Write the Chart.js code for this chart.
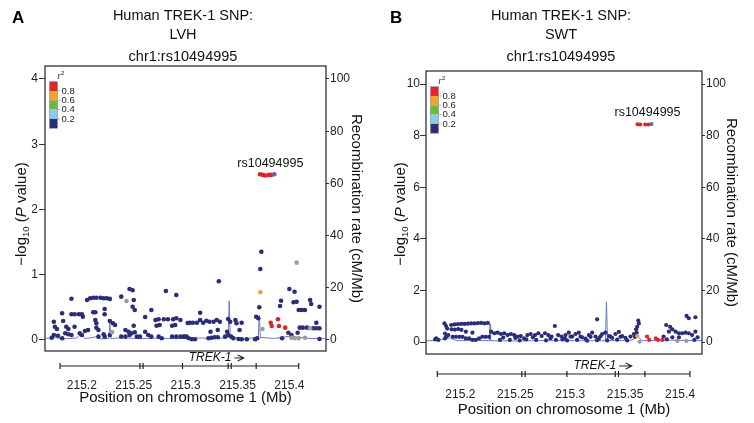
<!DOCTYPE html>
<html><head><meta charset="utf-8">
<script src="https://cdn.jsdelivr.net/npm/chart.js@4/dist/chart.umd.min.js"></script>
<style>
html,body{margin:0;padding:0;background:#fff;}
#wrap{position:relative;width:754px;height:423px;overflow:hidden;}
.panel{position:absolute;top:0;width:377px;height:423px;}
canvas{display:block;}
</style></head><body>
<div id="wrap">
<div class="panel" style="left:0"><canvas id="cA" width="377" height="423"></canvas></div>
<div class="panel" style="left:377px"><canvas id="cB" width="377" height="423"></canvas></div>
</div>
<script>
// ---------- shared labels ----------
const xTickValues = [215.2, 215.25, 215.3, 215.35, 215.4];
const xTickLabels = ['215.2', '215.25', '215.3', '215.35', '215.4'];
const r2Labels = ['0.8', '0.6', '0.4', '0.2'];
const r2Colors = ['#e3262b', '#f4a22e', '#6cb843', '#8dcbeb', '#2b2d76'];
const geneName = 'TREK-1';
const geneMarks = [215.179, 215.256, 215.259, 215.297, 215.341, 215.344, 215.368, 215.409];
const geneLabelSpan = [215.303, 215.356];
const leadSnp = 'rs10494995';

// ---------- panel A (LVH) ----------
const lvhTicksLeft = [0, 1, 2, 3, 4];
const lvhTicksRight = [0, 20, 40, 60, 80, 100];
const lvhNavy = [
[215.190,0.633],[215.205,0.613],[215.208,0.639],[215.211,0.648],[215.214,0.648],[215.218,0.648],[215.221,0.64],[215.224,0.639],[215.227,0.63],[215.238,0.664],[215.246,0.782],[215.249,0.762],[215.250,0.613],[215.249,0.510],[215.251,0.460],[215.281,0.751],[215.291,0.690],[215.267,0.460],[215.261,0.352],
[215.181,0.409],[215.190,0.394],[215.193,0.394],[215.197,0.394],[215.200,0.394],[215.201,0.357],[215.211,0.425],[215.213,0.425],[215.222,0.475],[215.222,0.394],
[215.173,0.280],[215.182,0.291],[215.213,0.307],[215.214,0.256],[215.227,0.291],[215.230,0.256],[215.232,0.230],[215.271,0.307],[215.274,0.317],[215.279,0.317],[215.283,0.317],[215.288,0.317],[215.291,0.333],[215.295,0.307],[215.302,0.261],
[215.174,0.204],[215.176,0.169],[215.185,0.204],[215.187,0.169],[215.193,0.204],[215.203,0.138],[215.206,0.153],[215.214,0.189],[215.216,0.153],[215.250,0.219],[215.242,0.153],[215.245,0.127],[215.248,0.103],[215.251,0.118],[215.261,0.127],[215.272,0.219],[215.275,0.230],[215.287,0.219],[215.290,0.230],
[215.171,0.035],[215.173,0.077],[215.177,0.066],[215.181,0.026],[215.184,0.103],[215.187,0.087],[215.190,0.077],[215.198,0.103],[215.200,0.077],[215.216,0.051],[215.221,0.087],[215.222,0.051],[215.227,0.077],[215.238,0.051],[215.242,0.051],[215.246,0.077],[215.253,0.051],[215.256,0.051],[215.264,0.077],[215.267,0.051],[215.274,0.051],[215.277,0.026],[215.287,0.051],[215.291,0.051],[215.295,0.051],[215.298,0.051],[215.301,0.051],
[215.373,1.353],[215.372,1.088],[215.332,0.900],[215.400,0.782],[215.405,0.740],[215.392,0.602],[215.391,0.521],[215.404,0.578],[215.407,0.587],[215.420,0.613],[215.421,0.552],[215.429,0.510],[215.409,0.460],[215.412,0.460],[215.415,0.460],[215.371,0.501],[215.314,0.418],[215.368,0.357],[215.370,0.333],
[215.304,0.265],[215.307,0.265],[215.311,0.265],[215.314,0.307],[215.317,0.265],[215.320,0.296],[215.323,0.280],[215.327,0.280],[215.330,0.307],[215.333,0.280],[215.341,0.322],[215.343,0.280],[215.348,0.307],[215.349,0.256],[215.354,0.265],
[215.324,0.127],[215.331,0.153],[215.340,0.127],[215.352,0.153],
[215.410,0.189],[215.413,0.189],[215.417,0.189],[215.423,0.179],[215.426,0.179],[215.429,0.179],[215.426,0.265],[215.399,0.112],[215.402,0.077],[215.408,0.112],
[215.299,0.051],[215.303,0.026],[215.306,0.011],[215.309,0.011],[215.322,0.026],[215.325,0.035],[215.328,0.041],[215.331,0.041],[215.338,0.051],[215.341,0.077],[215.344,0.051],[215.346,0.026],[215.351,0.015],[215.354,0.011],[215.359,0.011],[215.367,0.011],[215.369,0.026],[215.393,0.026],[215.429,0.015]
];
const lvhGray = [[215.243,0.598],[215.229,0.12],[215.374,0.169],[215.407,1.185],[215.402,0.035],[215.405,0.026],[215.409,0.026],[215.415,0.035],[215.420,0.179]];
const lvhOrange = [[215.372,0.731]];
const lvhRed = [[215.382,0.265],[215.383,0.215],[215.389,0.317],[215.390,0.215],[215.396,0.189],
                [215.3717,2.54],[215.3743,2.53],[215.3768,2.52],[215.3801,2.53],[215.3826,2.53]];
const lvhLead = [[215.3855,2.54]];
const lvhRecomb = [[215.165,0.6],[215.175,0.9],[215.182,0.4],[215.195,0.8],[215.199,2.2],[215.203,0.5],[215.214,1.2],[215.218,0.4],[215.226,0.6],[215.227,6.5],[215.228,0.6],[215.24,0.9],[215.255,0.5],[215.27,0.7],[215.29,0.5],[215.31,0.8],[215.33,0.6],[215.341,0.9],[215.342,15],[215.343,0.9],[215.36,0.6],[215.370,1.0],[215.371,9.5],[215.372,1.0],[215.385,0.6],[215.40,1.4],[215.42,0.6],[215.435,0.5]];

// ---------- panel B (SWT) ----------
const swtTicksLeft = [0, 2, 4, 6, 8, 10];
const swtTicksRight = [0, 20, 40, 60, 80, 100];
const swtNavy = [
[215.177,0.10],[215.178,0.14],[215.180,0.08],[215.1855,0.72],[215.187,0.62],[215.186,0.33],[215.187,0.20],[215.189,0.27],[215.186,0.14],
[215.1916,0.66],[215.1946,0.68],[215.1977,0.69],[215.2007,0.70],[215.2037,0.70],[215.2068,0.71],[215.2098,0.72],[215.2128,0.72],[215.2159,0.73],[215.2189,0.74],[215.2219,0.72],[215.2250,0.74],
[215.188,0.52],[215.192,0.49],[215.195,0.48],[215.198,0.50],[215.201,0.47],[215.205,0.40],[215.211,0.36],
[215.193,0.20],[215.196,0.20],[215.199,0.20],[215.202,0.20],[215.205,0.14],[215.208,0.14],[215.211,0.08],[215.214,0.08],[215.217,0.14],[215.220,0.20],[215.223,0.20],[215.226,0.20],
[215.228,0.40],[215.231,0.34],[215.234,0.36],[215.237,0.31],[215.240,0.34],[215.243,0.27],[215.246,0.31],[215.249,0.27],[215.252,0.21],[215.255,0.23],[215.258,0.14],[215.261,0.27],[215.264,0.31],[215.268,0.27],[215.271,0.34],[215.274,0.23],[215.277,0.34],[215.280,0.27],[215.283,0.21],[215.286,0.62],[215.289,0.27],[215.292,0.21],[215.295,0.14],
[215.236,0.08],[215.245,0.08],[215.254,0.06],[215.260,0.10],[215.269,0.08],[215.278,0.06],[215.287,0.08],[215.293,0.10],[215.239,0.17],[215.250,0.16],[215.266,0.18],[215.282,0.15],
[215.2957,0.27],[215.2987,0.36],[215.3018,0.21],[215.3048,0.31],[215.3078,0.36],[215.3109,0.18],[215.3139,0.13],[215.3170,0.27],[215.3200,0.36],[215.3230,0.21],[215.3261,0.13],[215.3291,0.31],[215.3321,0.36],[215.3352,0.23],[215.3382,0.16],[215.3412,0.31],[215.3443,0.39],[215.3473,0.23],[215.3503,0.16],[215.3549,0.21],[215.3580,0.31],
[215.2972,0.06],[215.3063,0.08],[215.3154,0.05],[215.3245,0.07],[215.3337,0.06],[215.3428,0.09],[215.3519,0.06],
[215.3003,0.21],[215.3094,0.21],[215.3185,0.20],[215.3276,0.22],[215.3367,0.21],[215.3458,0.20],
[215.3245,0.88],
[215.3620,0.83],[215.3625,0.72],[215.3610,0.59],[215.3600,0.49],[215.3605,0.36],[215.3590,0.20],
[215.3874,0.66],[215.3899,0.40],[215.3930,0.49],[215.3960,0.40],[215.3990,0.34],[215.4020,0.34],[215.4050,0.36],[215.4080,0.34],[215.4110,0.27],[215.4140,0.40],[215.4060,1.01],[215.4080,0.92],[215.4140,0.96],[215.3850,0.21],[215.3880,0.10],[215.3930,0.18],[215.3990,0.18],[215.4160,0.18],[215.4130,0.08],[215.3910,0.59]
];
const swtGray = [[215.3631,0.01],[215.3975,0.04],[215.4057,0.04]];
const swtOrange = [[215.361,0.23]];
const swtRed = [[215.370,0.21],[215.372,0.08],[215.378,0.14],[215.380,0.08],[215.384,0.08],
                [215.3613,8.44],[215.3637,8.43],[215.3683,8.43],[215.3713,8.43]];
const swtLead = [[215.3740,8.45]];
const swtRecomb = [[215.168,0.4],[215.18,0.7],[215.19,1.6],[215.197,0.5],[215.215,0.6],[215.2265,0.5],[215.227,7],[215.2275,0.5],[215.25,0.4],[215.28,0.6],[215.31,0.5],[215.332,0.5],[215.333,15.6],[215.334,0.5],[215.355,0.6],[215.362,2.0],[215.365,0.5],[215.39,0.7],[215.42,0.5]];

// ---------- drawing ----------
const FONT = '"Liberation Sans", Arial, Helvetica, sans-serif';
Chart.defaults.font.family = FONT;
Chart.defaults.color = '#1a1a1a';

const toXY = arr => arr.map(p => ({x: p[0], y: p[1]}));

const decor = {
  id: 'decor',
  afterDraw(chart, args, o) {
    const {ctx, chartArea: a} = chart;
    const xs = chart.scales.x, ys = chart.scales.y;
    ctx.save();
    // plot frame
    ctx.strokeStyle = '#333'; ctx.lineWidth = 1.3;
    ctx.strokeRect(a.left, a.top, a.right - a.left, a.bottom - a.top);
    // panel letter
    ctx.fillStyle = '#000'; ctx.font = 'bold 17px ' + FONT;
    ctx.textAlign = 'left'; ctx.textBaseline = 'alphabetic';
    ctx.fillText(o.letter, o.letterX, 23);
    // left axis title: −log10 (P value)
    ctx.save();
    ctx.translate(o.yTitleX, o.yTitleY); ctx.rotate(-Math.PI / 2);
    const parts = [
      {t: '\u2212log', f: '15px ' + FONT, dy: 0},
      {t: '10', f: '9.5px ' + FONT, dy: 4},
      {t: ' (', f: '15px ' + FONT, dy: 0},
      {t: 'P', f: 'italic 15px ' + FONT, dy: 0},
      {t: ' value)', f: '15px ' + FONT, dy: 0}
    ];
    let total = 0;
    parts.forEach(p => { ctx.font = p.f; p.w = ctx.measureText(p.t).width; total += p.w; });
    let cx = -total / 2;
    ctx.textBaseline = 'middle'; ctx.fillStyle = '#111';
    parts.forEach(p => { ctx.font = p.f; ctx.fillText(p.t, cx, p.dy); cx += p.w; });
    ctx.restore();
    // r2 legend
    const bx = a.left + 4.5, by = a.top + 15.7, bw = 8, bh = 9.3;
    r2Colors.forEach((c, i) => { ctx.fillStyle = c; ctx.fillRect(bx, by + i * bh, bw, bh); });
    ctx.strokeStyle = '#888'; ctx.lineWidth = 0.6;
    ctx.strokeRect(bx, by, bw, bh * r2Colors.length);
    ctx.font = '9.5px ' + FONT; ctx.fillStyle = '#222'; ctx.textBaseline = 'middle'; ctx.textAlign = 'left';
    r2Labels.forEach((l, i) => {
      const yy = by + (i + 1) * bh;
      ctx.beginPath(); ctx.moveTo(bx + bw, yy); ctx.lineTo(bx + bw + 3, yy); ctx.stroke();
      ctx.fillText(l, bx + bw + 4, yy);
    });
    ctx.font = 'italic 9px ' + FONT;
    ctx.fillText('r', bx + 8, a.top + 10);
    const rw = ctx.measureText('r').width;
    ctx.font = '6px ' + FONT;
    ctx.fillText('2', bx + 8 + rw + 0.5, a.top + 7.5);
    // gene track
    const gy = o.geneY;
    const g1 = xs.getPixelForValue(geneMarks[0]);
    const g2 = xs.getPixelForValue(geneMarks[geneMarks.length - 1]);
    ctx.strokeStyle = '#222'; ctx.lineWidth = 1.2;
    ctx.beginPath(); ctx.moveTo(g1, gy); ctx.lineTo(g2, gy); ctx.stroke();
    geneMarks.forEach(v => {
      const px = xs.getPixelForValue(v);
      ctx.beginPath(); ctx.moveTo(px, gy - 3); ctx.lineTo(px, gy + 3); ctx.stroke();
    });
    ctx.font = 'italic 12px ' + FONT; ctx.fillStyle = '#111'; ctx.textBaseline = 'middle';
    const lx = xs.getPixelForValue(geneLabelSpan[0]);
    ctx.fillText(geneName, lx, gy - 8);
    const tw = ctx.measureText(geneName).width;
    const ax1 = lx + tw + 3, ax2 = xs.getPixelForValue(geneLabelSpan[1]);
    ctx.lineWidth = 1.1;
    ctx.beginPath(); ctx.moveTo(ax1, gy - 8); ctx.lineTo(ax2, gy - 8);
    ctx.moveTo(ax2 - 6, gy - 11); ctx.lineTo(ax2, gy - 8); ctx.lineTo(ax2 - 6, gy - 5); ctx.stroke();
    // lead SNP label
    const lp = o.lead;
    const px = xs.getPixelForValue(lp[0]), py = ys.getPixelForValue(lp[1]);
    ctx.font = '12.5px ' + FONT; ctx.textAlign = 'center'; ctx.fillStyle = '#111';
    ctx.fillText(leadSnp, px - 4, py - 11);
    ctx.restore();
  }
};

function makeChart(id, d, L) {
  const pr = L.radius;
  const pts = (data, color, order) => ({
    data: toXY(data), yAxisID: 'y', backgroundColor: color, borderColor: color,
    borderWidth: 0, pointRadius: pr, pointHoverRadius: pr, showLine: false, order: order
  });
  return new Chart(document.getElementById(id), {
    type: 'scatter',
    data: {
      datasets: [
        {data: toXY(d.recomb), yAxisID: 'y2', showLine: true, borderColor: '#6a7bc6', borderWidth: 1,
         pointRadius: 0, tension: 0, order: 9},
        pts(d.navy, '#2b2d76', 5),
        pts(d.gray, '#9c9c9c', 4),
        pts(d.orange, '#e9a23c', 3),
        pts(d.red, '#d8262c', 2),
        pts(d.lead, '#7a5ca8', 1)
      ]
    },
    options: {
      responsive: false, animation: false, devicePixelRatio: 1,
      events: [],
      layout: {padding: {left: 0, right: L.padRight, top: 0, bottom: 0}},
      plugins: {
        legend: {display: false}, tooltip: {enabled: false},
        title: {display: true, text: ['Human TREK-1 SNP:', d.trait], color: '#111',
                font: {size: 14.5, weight: 'normal', lineHeight: 1.3}, padding: {top: 7, bottom: 0}},
        subtitle: {display: true, text: 'chr1:' + leadSnp, color: '#111',
                   font: {size: 14.5, weight: 'normal', lineHeight: 1.2}, padding: {top: 3.6, bottom: L.subBottom}},
        decor: {letter: d.letter, letterX: L.letterX, yTitleX: L.yTitleX, yTitleY: 214,
                geneY: L.geneY, lead: d.lead[0]}
      },
      scales: {
        x: {
          type: 'linear', position: 'bottom', min: L.xMin, max: L.xMax,
          afterBuildTicks: s => { s.ticks = xTickValues.map(v => ({value: v})); },
          ticks: {callback: (v) => xTickLabels[xTickValues.indexOf(v)], padding: L.xTickPad,
                  font: {size: 12}, color: '#222', maxRotation: 0, autoSkip: false},
          grid: {display: false, drawTicks: false}, border: {display: false},
          title: {display: true, text: 'Position on chromosome 1 (Mb)', color: '#111',
                  font: {size: 15}, padding: {top: 0, bottom: L.xTitlePad}},
          afterFit: s => { s.height = L.xHeight; }
        },
        y: {
          type: 'linear', position: 'left', min: L.yMin, max: L.yMax,
          afterBuildTicks: s => { s.ticks = d.ticksLeft.map(v => ({value: v})); },
          ticks: {padding: L.yTickPad, font: {size: 12}, color: '#222'},
          grid: {drawOnChartArea: false, drawTicks: true, tickLength: 6, color: '#333', lineWidth: 1},
          border: {display: false},
          afterFit: s => { s.width = L.yWidth; }
        },
        y2: {
          type: 'linear', position: 'right', min: L.y2Min, max: L.y2Max,
          afterBuildTicks: s => { s.ticks = d.ticksRight.map(v => ({value: v})); },
          ticks: {padding: 1, font: {size: 12}, color: '#222'},
          grid: {drawOnChartArea: false, drawTicks: true, tickLength: 3, color: '#333', lineWidth: 1},
          border: {display: false},
          title: {display: true, text: 'Recombination rate (cM/Mb)', color: '#111',
                  font: {size: 15}, padding: {top: L.y2TitlePad, bottom: 0}},
          afterFit: s => { s.width = L.y2Width; }
        }
      }
    },
    plugins: [decor]
  });
}

makeChart('cA',
  {letter: 'A', trait: 'LVH', navy: lvhNavy, gray: lvhGray, orange: lvhOrange, red: lvhRed, lead: lvhLead,
   recomb: lvhRecomb, ticksLeft: lvhTicksLeft, ticksRight: lvhTicksRight},
  {radius: 2.3, padRight: 11, subBottom: 0.3, letterX: 12, yTitleX: 22, geneY: 366,
   xMin: 215.1645, xMax: 215.4353, xTickPad: 27, xTitlePad: 16, xHeight: 72,
   yMin: -0.1686, yMax: 4.199, yTickPad: 1, yWidth: 45,
   y2Min: -4.215, y2Max: 104.98, y2TitlePad: 1, y2Width: 40});

makeChart('cB',
  {letter: 'B', trait: 'SWT', navy: swtNavy, gray: swtGray, orange: swtOrange, red: swtRed, lead: swtLead,
   recomb: swtRecomb, ticksLeft: swtTicksLeft, ticksRight: swtTicksRight},
  {radius: 2.1, padRight: 9, subBottom: 5.3, letterX: 13, yTitleX: 24, geneY: 374,
   xMin: 215.1687, xMax: 215.42, xTickPad: 33, xTitlePad: 4, xHeight: 69,
   yMin: -0.465, yMax: 10.504, yTickPad: 0, yWidth: 49,
   y2Min: -4.65, y2Max: 105.04, y2TitlePad: 5, y2Width: 43});
</script>
</body></html>
